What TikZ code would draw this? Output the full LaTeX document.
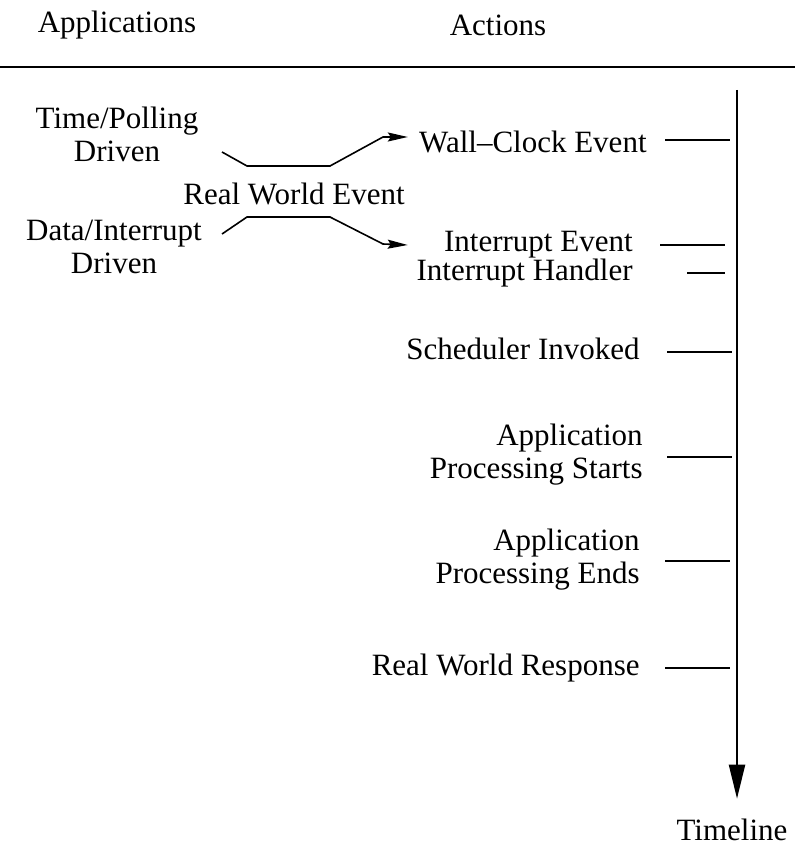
\documentclass[tikz,border=0pt]{standalone}
\usepackage{fontspec}
\setmainfont{Liberation Serif}
\usetikzlibrary{arrows.meta}

\begin{document}
\begin{tikzpicture}[x=0.5pt,y=-0.5pt,
  every node/.style={font=\fontsize{15.5}{16.5}\selectfont, inner sep=0pt},
  act/.style={anchor=east, align=right},
  app/.style={align=center},
  tick/.style={line width=0.8pt},
  conn/.style={line width=0.8pt, -{Stealth[length=10pt,width=4.5pt,inset=1.5pt]}}]
\useasboundingbox (0,0) rectangle (795,850);

\node (apps) at (117,25) {Applications};
\node (acts) at (498,25) {Actions};
\draw[line width=1pt] (0,67) -- (795,67);

\node[app] (tpd) at (117,134) {Time/Polling\\Driven};
\node[app] (did) at (114,247) {Data/Interrupt\\Driven};
\node (rwe) at (294,194) {Real World Event};

\node[act] (wce) at (647,142) {Wall--Clock Event};
\node[act] (iev) at (633,245) {Interrupt Event};
\node[act] (ihd) at (633,273) {Interrupt Handler};
\node[act] (sch) at (640,349) {Scheduler Invoked};
\node[act] (aps) at (643,455) {Application\\Processing Starts};
\node[act] (ape) at (640,560) {Application\\Processing Ends};
\node[act] (rwr) at (640,668) {Real World Response};
\node (tl) at (732,830) {Timeline};

\coordinate (tpout) at (222,152);
\coordinate (diout) at (222,234);
\draw[conn] (tpout) -- ++(25,14) -- ++(83,0) -- ++(53,-29) -- ([xshift=-5.5pt,yshift=2.5pt]wce.west);
\draw[conn] (diout) -- ++(25,-17) -- ++(83,0) -- ++(53,27) -- ([xshift=-18pt]iev.west);

\coordinate (tltop) at (737,90);
\draw[line width=1.1pt, -{Triangle[length=17pt,width=8pt]}] (tltop) -- ([yshift=10pt]tltop |- tl.north);

\draw[tick] ([xshift=9pt,yshift=1pt]wce.east) -- ++(65,0);
\draw[tick] ([xshift=13.5pt]iev.east) -- ++(65,0);
\draw[tick] ([xshift=27pt]ihd.east) -- ++(38,0);
\draw[tick] ([xshift=13.5pt,yshift=-1.5pt]sch.east) -- ++(65,0);
\draw[tick] ([xshift=12pt,yshift=-1pt]aps.east) -- ++(65,0);
\draw[tick] ([xshift=12.5pt,yshift=-0.5pt]ape.east) -- ++(65,0);
\draw[tick] ([xshift=12.5pt]rwr.east) -- ++(65,0);
\end{tikzpicture}
\end{document}
